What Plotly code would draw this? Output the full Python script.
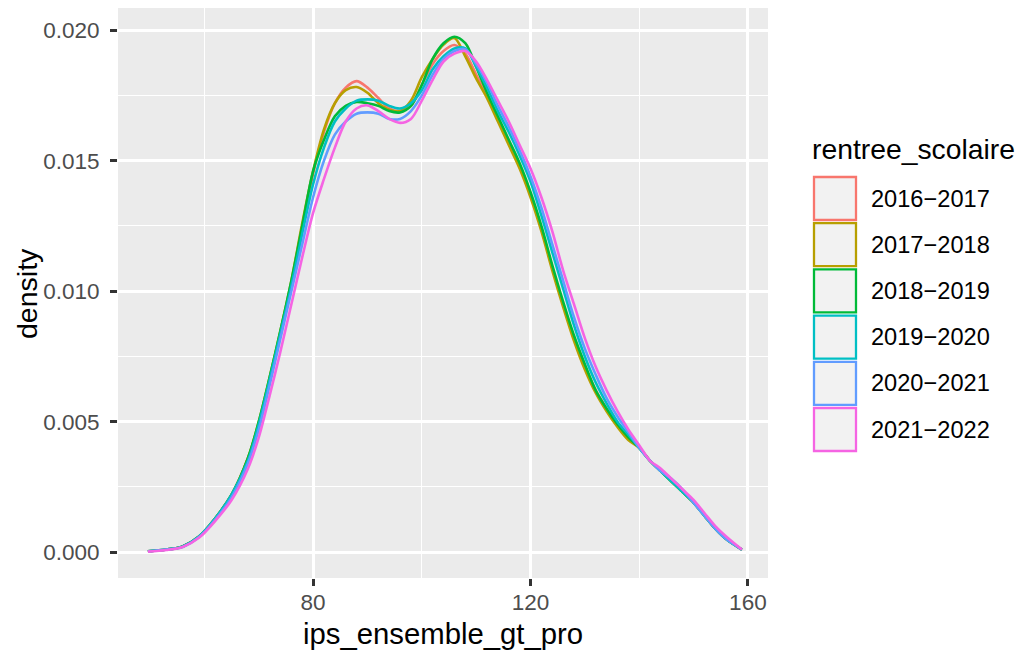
import plotly.graph_objects as go

# ---------------- data ----------------
ips = [49.6, 53, 56, 59, 62, 65, 68, 70, 72, 74, 76, 78, 80, 82, 84, 86, 88, 90,
       92, 94, 96, 98, 100, 102, 104, 106, 108, 110, 112, 114, 116, 118, 120, 122,
       124, 126, 128, 130, 132, 134, 136, 138, 140, 142, 144, 146, 148, 150, 152,
       154, 156, 158.9]

years = ["2016\u22122017", "2017\u22122018", "2018\u22122019",
         "2019\u22122020", "2020\u22122021", "2021\u22122022"]

d_2016 = [0.00003, 0.0001, 0.00022, 0.0006, 0.0013, 0.0022, 0.0036,
          0.0049, 0.0066, 0.0084, 0.0103, 0.0124, 0.0145, 0.0161, 0.0172, 0.0178, 0.01805, 0.0178,
          0.0174, 0.0170, 0.0169, 0.0171, 0.0179, 0.0187, 0.0192, 0.01943, 0.0191, 0.0183, 0.0175,
          0.0166, 0.0157, 0.0148, 0.0137, 0.0124, 0.0109, 0.0095, 0.0082, 0.0071, 0.0062, 0.0055,
          0.0049, 0.0044, 0.0040, 0.0035, 0.0031, 0.0027, 0.0023, 0.0019, 0.0014, 0.0009, 0.0005, 0.0001]
d_2017 = [0.00003, 0.0001, 0.00022, 0.0006, 0.0013, 0.0022, 0.0036,
          0.0050, 0.0067, 0.0085, 0.0104, 0.0126, 0.0146, 0.0162, 0.0172, 0.0177, 0.01782, 0.0176,
          0.0172, 0.01695, 0.0169, 0.0173, 0.0182, 0.0189, 0.01945, 0.0197, 0.0190, 0.01815, 0.0174,
          0.0165, 0.0156, 0.0147, 0.0136, 0.0123, 0.0108, 0.0094, 0.0081, 0.0070, 0.0061, 0.0054,
          0.0048, 0.0043, 0.0040, 0.0035, 0.0031, 0.0027, 0.0023, 0.0019, 0.0014, 0.0009, 0.0005, 0.0001]
d_2018 = [0.00003, 0.0001, 0.00022, 0.0006, 0.0013, 0.0022, 0.0036,
          0.0050, 0.0067, 0.0085, 0.0104, 0.0125, 0.0146, 0.0158, 0.0167, 0.0171, 0.01725, 0.0172,
          0.0171, 0.0169, 0.01685, 0.0171, 0.0179, 0.0189, 0.0195, 0.01975, 0.0195, 0.0186, 0.0176,
          0.0167, 0.0158, 0.0149, 0.0138, 0.0125, 0.0110, 0.0096, 0.0083, 0.0072, 0.0062, 0.0055,
          0.0049, 0.0044, 0.0040, 0.0035, 0.0031, 0.0027, 0.0023, 0.0019, 0.0014, 0.0009, 0.0005, 0.0001]
d_2019 = [0.00003, 0.0001, 0.00022, 0.0006, 0.0013, 0.0022, 0.0035,
          0.0049, 0.0066, 0.0084, 0.0102, 0.0122, 0.0141, 0.0155, 0.0165, 0.0170, 0.0173, 0.01735,
          0.0173, 0.0171, 0.0170, 0.0172, 0.0177, 0.0185, 0.0190, 0.0193, 0.0193, 0.0186, 0.0178,
          0.0169, 0.0161, 0.0152, 0.0142, 0.0129, 0.0115, 0.0101, 0.0087, 0.0075, 0.0065, 0.0057,
          0.0050, 0.0045, 0.0040, 0.0035, 0.0031, 0.0027, 0.0023, 0.0019, 0.0014, 0.0009, 0.0005, 0.0001]
d_2020 = [0.00003, 0.0001, 0.0002, 0.00058, 0.00125, 0.0021, 0.0034,
          0.0047, 0.0064, 0.0082, 0.0100, 0.0118, 0.0136, 0.0150, 0.0160, 0.0165, 0.0168, 0.01685,
          0.0168, 0.0166, 0.0166, 0.0169, 0.0175, 0.0183, 0.0189, 0.0192, 0.01927, 0.0187, 0.0180,
          0.0171, 0.0163, 0.0154, 0.0144, 0.0132, 0.0118, 0.0104, 0.0090, 0.0078, 0.0068, 0.0059,
          0.0052, 0.0046, 0.0040, 0.0035, 0.0031, 0.0028, 0.0024, 0.0019, 0.0014, 0.0009, 0.0005, 0.0001]
d_2021 = [0.00002, 0.00008, 0.0002, 0.00055, 0.0012, 0.0020, 0.0032,
          0.0044, 0.0060, 0.0077, 0.0095, 0.0113, 0.0130, 0.0143, 0.0155, 0.0165, 0.0170, 0.01712,
          0.0169, 0.0166, 0.01645, 0.0166, 0.0173, 0.0181, 0.0188, 0.0191, 0.0192, 0.0188, 0.0181,
          0.0173, 0.0165, 0.0156, 0.0147, 0.0136, 0.0123, 0.0108, 0.0095, 0.0082, 0.0071, 0.0062,
          0.0054, 0.0047, 0.0041, 0.0035, 0.0032, 0.0028, 0.0024, 0.0020, 0.0015, 0.0010, 0.0006, 0.0001]

densities = [d_2016, d_2017, d_2018, d_2019, d_2020, d_2021]

x_ticks = [80, 120, 160]
x_minor = [60, 100, 140]
y_ticks = [0.000, 0.005, 0.010, 0.015, 0.020]
y_minor = [0.0025, 0.0075, 0.0125, 0.0175]
y_tick_labels = ["0.000", "0.005", "0.010", "0.015", "0.020"]

# ---------------- styling ----------------
colors = ["#F8766D", "#B79F00", "#00BA38", "#00BFC4", "#619CFF", "#F564E3"]
FONT = "Liberation Sans, Arial, Helvetica, sans-serif"
OFF = 8                                  # default page body margin of the html page
W, H = 1027 - OFF, 653 - OFF
PL, PR, PT, PB = 118, 768, 8, 578        # panel edges in page pixels


def px_x(px):
    return (px - PL) / (PR - PL)


def px_y(py):
    return (PB - py) / (PB - PT)


fig = go.Figure()
for name, dens, col in zip(years, densities, colors):
    fig.add_trace(go.Scatter(
        x=ips, y=dens, mode="lines", name=name,
        line=dict(color=col, width=2.6, shape="spline", smoothing=0.9),
        hoverinfo="skip", showlegend=False))

axis_common = dict(
    showline=False, zeroline=False,
    showgrid=True, gridcolor="#FFFFFF", gridwidth=2.6,
    ticks="outside", ticklen=7, tickwidth=2.6, tickcolor="#333333",
    tickfont=dict(family=FONT, size=22.5, color="#4D4D4D"),
)

fig.update_xaxes(
    range=[44.1, 163.7], tickmode="array", tickvals=x_ticks,
    ticklabelstandoff=-3,
    minor=dict(tickmode="array", tickvals=x_minor, showgrid=True,
               gridcolor="#FFFFFF", gridwidth=1.3, ticks=""),
    **axis_common)
fig.update_yaxes(
    range=[-0.00099, 0.02085], tickmode="array", tickvals=y_ticks,
    ticktext=y_tick_labels, ticklabelstandoff=6,
    minor=dict(tickmode="array", tickvals=y_minor,
               showgrid=True, gridcolor="#FFFFFF", gridwidth=1.3, ticks=""),
    **axis_common)

annotations = [
    dict(text="ips_ensemble_gt_pro", x=0.5, y=px_y(633), xref="paper", yref="paper",
         showarrow=False, xanchor="center", yanchor="middle",
         font=dict(family=FONT, size=29.3, color="#000000")),
    dict(text="density", x=px_x(27), y=0.5, xref="paper", yref="paper",
         showarrow=False, xanchor="center", yanchor="middle", textangle=-90,
         font=dict(family=FONT, size=28.5, color="#000000")),
    dict(text="rentree_scolaire", x=px_x(810), y=px_y(149), xref="paper", yref="paper",
         showarrow=False, xanchor="left", yanchor="middle",
         font=dict(family=FONT, size=28.3, color="#000000")),
]

shapes = []
for i, (name, col) in enumerate(zip(years, colors)):
    cy = 198.5 + 46.2 * i
    shapes.append(dict(type="rect", xref="paper", yref="paper",
                       x0=px_x(814), x1=px_x(856), y0=px_y(cy + 21.5), y1=px_y(cy - 21.5),
                       fillcolor="#F2F2F2", line=dict(color=col, width=2.3)))
    annotations.append(dict(text=name, x=px_x(869), y=px_y(cy), xref="paper", yref="paper",
                            showarrow=False, xanchor="left", yanchor="middle",
                            font=dict(family=FONT, size=23.6, color="#000000")))

fig.update_layout(
    width=W, height=H, autosize=False,
    margin=dict(l=PL - OFF, r=1027 - PR, t=PT - OFF, b=653 - PB, pad=0),
    plot_bgcolor="#EBEBEB", paper_bgcolor="#FFFFFF",
    font=dict(family=FONT),
    annotations=annotations, shapes=shapes,
    showlegend=False,
)

fig.write_html("out.html")
